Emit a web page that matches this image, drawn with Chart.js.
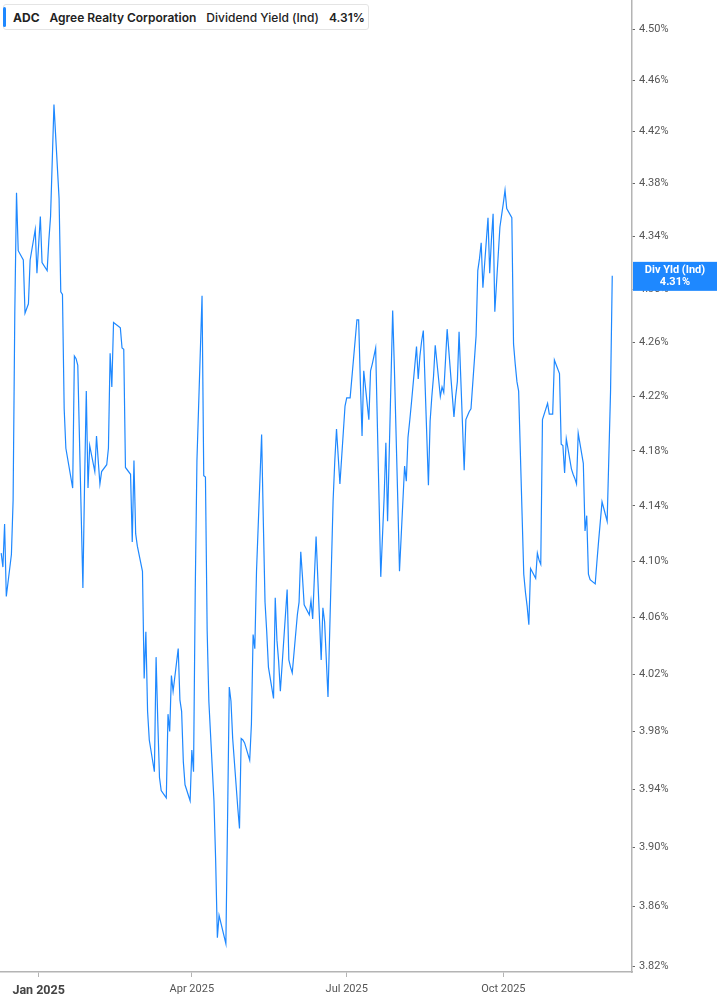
<!DOCTYPE html>
<html>
<head>
<meta charset="utf-8">
<script src="https://cdn.jsdelivr.net/npm/chart.js@4.4.1/dist/chart.umd.min.js"></script>
<style>
  html, body { margin: 0; padding: 0; background: #fff; }
  #wrap { position: relative; width: 717px; height: 1005px; }
  #legend {
    position: absolute; left: 3px; top: 4px; height: 26px; width: 366px;
    border: 1px solid #e4e4e4; border-radius: 3px; box-sizing: border-box;
    background: #fff; font-family: Inter, "Noto Sans", sans-serif; font-size: 12px;
    color: #222; display: flex; align-items: center; white-space: nowrap;
  }
  #legend .bar { position: absolute; left: -1px; top: 2px; bottom: 2px; width: 3px; background: #1e88ff; border-radius: 2px; }
  #legend span { margin-right: 10px; }
</style>
</head>
<body>
<div id="wrap">
  <canvas id="c"></canvas>
  <div id="legend"><div class="bar"></div>
    <span style="margin-left:9px;font-weight:700">ADC</span>
    <span style="font-weight:600">Agree Realty Corporation</span>
    <span style="font-weight:500">Dividend Yield (Ind)</span>
    <span style="font-weight:600">4.31%</span>
  </div>
</div>
<script>
const dates = [
'2024-12-10','2024-12-11','2024-12-12','2024-12-13','2024-12-16','2024-12-17','2024-12-18','2024-12-19','2024-12-20',
'2024-12-23','2024-12-24','2024-12-26','2024-12-27','2024-12-30','2024-12-31',
'2025-01-02','2025-01-03','2025-01-06','2025-01-07','2025-01-08','2025-01-10','2025-01-13','2025-01-14','2025-01-15',
'2025-01-16','2025-01-17','2025-01-21','2025-01-22','2025-01-23','2025-01-24','2025-01-27','2025-01-28','2025-01-29',
'2025-01-30','2025-01-31',
'2025-02-03','2025-02-04','2025-02-05','2025-02-06','2025-02-07','2025-02-10','2025-02-11','2025-02-12','2025-02-13',
'2025-02-14','2025-02-18','2025-02-19','2025-02-20','2025-02-21','2025-02-24','2025-02-25','2025-02-26','2025-02-27',
'2025-02-28',
'2025-03-03','2025-03-04','2025-03-05','2025-03-06','2025-03-07','2025-03-10','2025-03-11','2025-03-12','2025-03-13',
'2025-03-14','2025-03-17','2025-03-18','2025-03-19','2025-03-20','2025-03-21','2025-03-24','2025-03-25','2025-03-26',
'2025-03-27','2025-03-28','2025-03-31',
'2025-04-01','2025-04-02','2025-04-03','2025-04-04','2025-04-07','2025-04-08','2025-04-09','2025-04-10','2025-04-11',
'2025-04-14','2025-04-15','2025-04-16','2025-04-17','2025-04-21','2025-04-22','2025-04-23','2025-04-24','2025-04-25',
'2025-04-28','2025-04-29','2025-04-30',
'2025-05-01','2025-05-02','2025-05-05','2025-05-06','2025-05-07','2025-05-08','2025-05-09','2025-05-12','2025-05-13',
'2025-05-14','2025-05-15','2025-05-16','2025-05-19','2025-05-20','2025-05-21','2025-05-22','2025-05-23','2025-05-27',
'2025-05-28','2025-05-29','2025-05-30',
'2025-06-02','2025-06-03','2025-06-04','2025-06-05','2025-06-06','2025-06-09','2025-06-10','2025-06-11','2025-06-12',
'2025-06-13','2025-06-16','2025-06-17','2025-06-18','2025-06-20','2025-06-23','2025-06-24','2025-06-25','2025-06-26',
'2025-06-27','2025-06-30',
'2025-07-01','2025-07-02','2025-07-03','2025-07-07','2025-07-08','2025-07-09','2025-07-10','2025-07-11','2025-07-14',
'2025-07-15','2025-07-16','2025-07-17','2025-07-18','2025-07-21','2025-07-22','2025-07-23','2025-07-24','2025-07-25',
'2025-07-28','2025-07-29','2025-07-30','2025-07-31',
'2025-08-01','2025-08-04','2025-08-05','2025-08-06','2025-08-07','2025-08-08','2025-08-11','2025-08-12','2025-08-13',
'2025-08-14','2025-08-15','2025-08-18','2025-08-19','2025-08-20','2025-08-21','2025-08-22','2025-08-25','2025-08-26',
'2025-08-27','2025-08-28','2025-08-29',
'2025-09-02','2025-09-03','2025-09-04','2025-09-05','2025-09-08','2025-09-09','2025-09-10','2025-09-11','2025-09-12',
'2025-09-15','2025-09-16','2025-09-17','2025-09-18','2025-09-19','2025-09-22','2025-09-23','2025-09-24','2025-09-25',
'2025-09-26','2025-09-29','2025-09-30',
'2025-10-01','2025-10-02','2025-10-03','2025-10-06','2025-10-07','2025-10-08','2025-10-09','2025-10-10','2025-10-13',
'2025-10-14','2025-10-15','2025-10-16','2025-10-17','2025-10-20','2025-10-21','2025-10-22','2025-10-23','2025-10-24',
'2025-10-27','2025-10-28','2025-10-29','2025-10-30','2025-10-31',
'2025-11-03','2025-11-04','2025-11-05','2025-11-06','2025-11-07','2025-11-10','2025-11-11','2025-11-12','2025-11-13',
'2025-11-14','2025-11-17','2025-11-18','2025-11-19','2025-11-20','2025-11-21','2025-11-24','2025-11-25','2025-11-26',
'2025-11-28',
'2025-12-01','2025-12-02','2025-12-03','2025-12-04'
];

const yields = [
4.106,4.096,4.127,4.075,4.105,4.144,4.283,4.373,4.329,
4.322,4.282,4.289,4.322,4.345,4.312,
4.355,4.320,4.314,4.337,4.355,4.441,4.369,4.298,4.296,
4.211,4.182,4.153,4.250,4.248,4.243,4.081,4.158,4.224,
4.153,4.184,
4.165,4.191,4.173,4.156,4.165,4.170,4.182,4.252,4.227,
4.275,4.271,4.256,4.255,4.168,4.163,4.114,4.173,4.120,
4.111,
4.093,4.017,4.050,3.994,3.974,3.952,4.032,3.987,3.948,
3.939,3.934,3.992,3.980,4.019,4.008,4.038,4.002,3.994,
3.959,3.943,3.932,
3.967,3.952,4.079,4.173,4.295,4.162,4.161,4.051,4.001,
3.932,3.891,3.839,3.854,3.835,3.920,4.011,4.001,3.975,
3.927,3.913,3.975,
3.974,3.972,3.960,3.985,4.048,4.038,4.093,4.192,4.129,
4.071,4.050,4.025,4.003,4.074,4.044,4.029,4.008,4.080,
4.030,4.025,4.021,
4.062,4.071,4.107,4.089,4.069,4.062,4.072,4.059,4.089,
4.118,4.030,4.067,4.057,4.004,4.144,4.173,4.196,4.176,
4.156,4.213,
4.219,4.219,4.219,4.277,4.277,4.231,4.191,4.239,4.203,
4.239,4.244,4.250,4.256,4.089,4.118,4.147,4.186,4.129,
4.284,4.241,4.192,4.144,
4.093,4.169,4.158,4.190,4.202,4.215,4.257,4.233,4.250,
4.261,4.269,4.155,4.202,4.220,4.235,4.258,4.220,4.227,
4.223,4.246,4.270,
4.205,4.220,4.231,4.268,4.166,4.203,4.206,4.209,4.211,
4.265,4.314,4.323,4.335,4.301,4.354,4.312,4.337,4.357,
4.283,4.347,4.356,
4.365,4.375,4.361,4.354,4.259,4.244,4.231,4.224,4.091,
4.078,4.068,4.055,4.095,4.088,4.106,4.101,4.098,4.203,
4.215,4.207,4.207,4.207,4.247,
4.237,4.185,4.184,4.164,4.189,4.167,4.163,4.160,4.156,
4.193,4.171,4.122,4.133,4.091,4.087,4.084,4.100,4.115,
4.143,
4.129,4.176,4.224,4.31
];

const xTickDates = ['2025-01-01','2025-04-01','2025-07-01','2025-10-01'];
const xTickLabels = ['Jan 2025','Apr 2025','Jul 2025','Oct 2025'];
const yTicks = [3.82,3.86,3.90,3.94,3.98,4.02,4.06,4.10,4.14,4.18,4.22,4.26,4.30,4.34,4.38,4.42,4.46,4.50];
const xRange = ['2024-12-09','2025-12-15'];
const yRange = [3.816, 4.523];
const seriesName = 'Div Yld (Ind)';
const lastLabel = '4.31%';

function dayNum(s) {
  const p = s.split('-').map(Number);
  return Date.UTC(p[0], p[1] - 1, p[2]) / 86400000;
}

const points = dates.map((d, i) => ({ x: dayNum(d), y: yields[i] }));
const xTickVals = xTickDates.map(dayNum);

const priceTag = {
  id: 'priceTag',
  afterDraw(chart) {
    const ctx = chart.ctx;
    const ys = chart.scales.y;
    const area = chart.chartArea;
    const v = yields[yields.length - 1];
    const py = ys.getPixelForValue(v);
    const x0 = area.right + 1;
    const w = chart.width - x0;
    const h = 29;
    ctx.save();
    ctx.fillStyle = '#1e88ff';
    ctx.fillRect(x0, py - 14, w, h);
    ctx.fillStyle = '#ffffff';
    ctx.textAlign = 'center';
    ctx.textBaseline = 'middle';
    ctx.font = 'bold 11px Roboto, sans-serif';
    ctx.fillText(seriesName, x0 + w / 2, py - 6);
    ctx.fillText(lastLabel, x0 + w / 2, py + 6);
    ctx.restore();
  }
};

new Chart(document.getElementById('c'), {
  type: 'line',
  data: {
    datasets: [{
      data: points,
      borderColor: '#1e88ff',
      borderWidth: 1.2,
      pointRadius: 0,
      tension: 0,
      fill: false
    }]
  },
  options: {
    responsive: true,
    maintainAspectRatio: false,
    animation: false,
    layout: { padding: 0 },
    plugins: { legend: { display: false }, tooltip: { enabled: false } },
    scales: {
      x: {
        type: 'linear',
        min: dayNum(xRange[0]) + 0.3,
        max: dayNum(xRange[1]) + 0.6,
        afterFit(s) { s.height = 33; s.paddingLeft = 0; s.paddingRight = 0; },
        afterBuildTicks(s) { s.ticks = xTickVals.map(v => ({ value: v })); },
        border: { display: true, color: '#b4b4b4', width: 1.5 },
        grid: { drawOnChartArea: false, drawTicks: true, tickLength: 5, color: '#b4b4b4', tickWidth: 1 },
        ticks: {
          autoSkip: false,
          maxRotation: 0,
          padding: 6,
          color: (c) => c.index === 0 ? '#444' : '#555',
          font: (c) => c.index === 0 ? { family: 'Roboto', size: 12.5, weight: 'bold' } : { family: 'Roboto', size: 11 },
          callback: (v, i) => xTickLabels[i]
        }
      },
      y: {
        type: 'logarithmic',
        position: 'right',
        min: yRange[0],
        max: yRange[1],
        afterFit(s) { s.width = 85; s.paddingTop = 0; s.paddingBottom = 0; },
        afterBuildTicks(s) { s.ticks = yTicks.map(v => ({ value: v })); },
        border: { display: true, color: '#b4b4b4', width: 1.5 },
        grid: { drawOnChartArea: false, drawTicks: true, tickLength: 3, color: '#666', tickWidth: 1 },
        ticks: {
          autoSkip: false,
          padding: 4,
          color: '#555',
          font: { family: 'Roboto', size: 11 },
          callback: (v) => Number(v).toFixed(2) + '%'
        }
      }
    }
  },
  plugins: [priceTag]
});
</script>
</body>
</html>
